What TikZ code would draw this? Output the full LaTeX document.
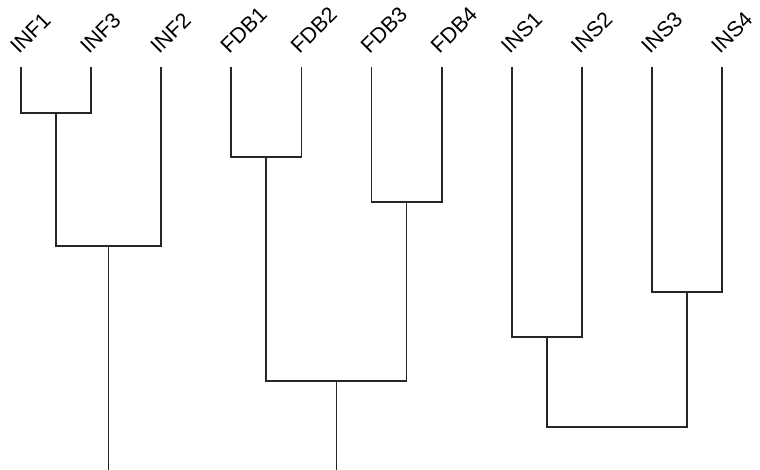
\documentclass[tikz,border=0pt]{standalone}
\usepackage{fontspec}
\setmainfont{Liberation Sans}
\begin{document}
\begin{tikzpicture}[x=1pt,y=1pt,
  branch/.style={draw=black!85,line width=1.8pt,line join=miter},
  leaflabel/.style={anchor=base west,rotate=45,inner sep=0pt,
    font=\fontsize{21.5}{26}\selectfont}]
\useasboundingbox (0,0) rectangle (760,470);

% leaf tips (y measured upward from the bottom edge)
\foreach \n/\x in {INF1/21,INF3/91.1,INF2/161.2,FDB1/231.3,FDB2/301.4,
                   FDB3/371.5,FDB4/441.6,INS1/511.7,INS2/581.8,INS3/651.9,INS4/722}{
  \coordinate (\n) at (\x,403);
  \node[leaflabel] (lab\n) at (\x-2,415) {\n};
}

% merge points
\coordinate (mINF13) at (56,357);
\coordinate (mINF)   at (108.5,224);
\coordinate (rINF)   at (108.5,0);
\coordinate (mFDB12) at (266.3,313);
\coordinate (mFDB34) at (406.5,268);
\coordinate (mFDB)   at (336.4,89);
\coordinate (rFDB)   at (336.4,0);
\coordinate (mINS12) at (546.7,133);
\coordinate (mINS34) at (687,178);
\coordinate (mINS)   at (616.9,43);

% INF cluster
\draw[branch] (INF1) |- (mINF13) -| (INF3);
\draw[branch] (mINF13) |- (mINF) -| (INF2);
\draw[branch] (mINF) -- (rINF);

% FDB cluster
\draw[branch] (FDB1) |- (mFDB12) -| (FDB2);
\draw[branch] (FDB3) |- (mFDB34) -| (FDB4);
\draw[branch] (mFDB12) |- (mFDB) -| (mFDB34);
\draw[branch] (mFDB) -- (rFDB);

% INS cluster
\draw[branch] (INS1) |- (mINS12) -| (INS2);
\draw[branch] (INS3) |- (mINS34) -| (INS4);
\draw[branch] (mINS12) |- (mINS) -| (mINS34);
\end{tikzpicture}
\end{document}
